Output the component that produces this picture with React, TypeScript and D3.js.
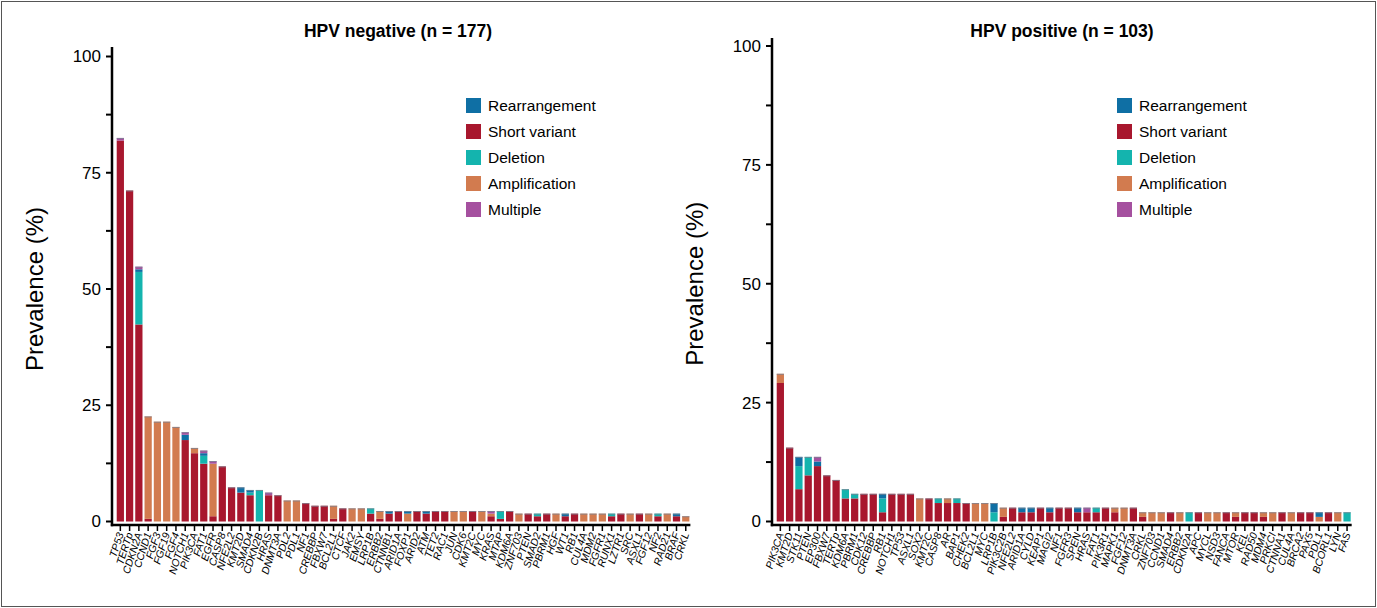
import React from "react";
import * as d3 from "d3";

const seriesKeys = ["short", "deletion", "amp", "rearr", "multiple"];
const seriesNames = ["Short variant", "Deletion", "Amplification", "Rearrangement", "Multiple"];
const seriesColors = ["#a8172e", "#14b4ae", "#d27b4f", "#0f6fa4", "#a5509f"];
const legendOrder = [3, 0, 1, 2, 4];

const negN = 177;
const negGenes = ["TP53","TERTp","CDKN2A","CCND1","FGF3","FGF19","FGF4","NOTCH1","PIK3CA","FAT1","EGFR","CASP8","NFE2L2","KMT2D","SMAD4","CDKN2B","HRAS","DNMT3A","PDL2","PDL1","NF1","CREBBP","FBXW7","BCL2L1","CTCF","JAK2","EMSY","LRP1B","ERBB2","CTNNB1","ARID1A","FOXP1","ARID2","ATM","TET2","RAC1","JUN","CDK6","KMT2C","MYC","KRAS","MTAP","KDM6A","ZNF703","PTEN","SMAD2","PBRM1","HGF","WT1","RB1","CUL4A","MDM2","FGFR1","RUNX1","LZTR1","SRC","ASXL1","FGF12","NF2","RAD21","BRAF","CRKL"];
const negShort = [145,126,75,1,0,0,0,31,26,22,2,21,13,11,10,0,10,10,0,0,7,6,6,1,5,0,0,3,1,3,4,0,4,3,4,4,0,0,4,0,2,1,4,0,3,2,3,0,2,3,0,0,0,2,3,0,3,0,2,0,2,0];
const negDeletion = [0,0,20,0,0,0,0,0,0,3,0,0,0,0,1,12,0,0,0,0,0,0,0,0,0,0,0,2,0,0,0,0,0,0,0,0,0,0,0,0,0,3,0,0,0,1,0,0,0,0,0,0,0,1,0,0,0,0,1,0,0,0];
const negAmp = [0,0,0,39,38,38,36,0,2,0,20,0,0,0,0,0,0,0,8,8,0,0,0,5,0,5,5,0,3,0,0,3,0,0,0,0,4,4,0,4,1,0,0,3,0,0,0,3,0,0,3,3,3,0,0,3,0,3,0,3,0,2];
const negRearr = [0,0,1,0,0,0,0,2,0,1,0,0,0,2,1,0,0,0,0,0,0,0,0,0,0,0,0,0,0,1,0,1,0,1,0,0,0,0,0,0,0,0,0,0,0,0,0,0,1,0,0,0,0,0,0,0,0,0,0,0,1,0];
const negMultiple = [1,0,1,0,0,0,0,1,0,1,1,0,0,0,0,0,1,0,0,0,0,0,0,0,0,0,0,0,0,0,0,0,0,0,0,0,0,0,0,0,1,0,0,0,0,0,0,0,0,0,0,0,0,0,0,0,0,0,0,0,0,0];

const posN = 103;
const posGenes = ["PIK3CA","KMT2D","STK11","PTEN","EP300","FBXW7","TERTp","KDM6A","PBRM1","CDK12","CREBBP","RB1","NOTCH1","TP53","ASXL1","SOX2","KMT2C","CASP8","AR","BAP1","CHEK2","BCL2L1","MYC","LRP1B","PIK3C2B","NFE2L2","ARID1A","CYLD","KEAP1","MAGI2","NF1","FGFR3","SPEN","HRAS","FAT1","PIK3R1","MAPK1","FGF12","DNMT3A","CRKL","ZNF703","CCND1","SMAD4","ERBB2","CDKN2A","APC","MYCL","NSD3","FANCA","MTOR","KEL","RAD50","MDM4","PRKCI","CTNNA1","CUL4A","BRCA2","PAX5","PDL1","BCORL1","LYN","FAS"];
const posShort = [30,16,7,10,12,10,9,5,5,6,6,2,6,6,6,0,5,4,4,4,4,0,0,0,1,3,2,2,3,2,3,3,2,2,2,3,2,0,3,1,0,0,2,0,0,2,0,0,2,1,2,2,1,0,2,0,2,2,0,2,0,0];
const posDeletion = [0,0,5,4,0,0,0,2,1,0,0,3,0,0,0,0,0,1,0,1,0,0,0,2,0,0,0,0,0,0,0,0,0,0,1,0,0,0,0,0,0,0,0,0,2,0,0,0,0,0,0,0,0,0,0,0,0,0,0,0,0,2];
const posAmp = [2,0,0,0,0,0,0,0,0,0,0,0,0,0,0,5,0,0,1,0,0,4,4,0,2,0,0,0,0,0,0,0,0,0,0,0,1,3,0,1,2,2,0,2,0,0,2,2,0,1,0,0,1,2,0,2,0,0,1,0,2,0];
const posRearr = [0,0,2,0,1,0,0,0,0,0,0,1,0,0,0,0,0,0,0,0,0,0,0,2,0,0,1,1,0,1,0,0,1,0,0,0,0,0,0,0,0,0,0,0,0,0,0,0,0,0,0,0,0,0,0,0,0,0,1,0,0,0];
const posMultiple = [
  0,0,0,0,1,0,0,0,0,0,
  0,0,0,0,0,0,0,0,0,0,
  0,0,0,0,0,0,0,0,0,0,
  0,0,0,1,0,0,0,0,0,0,
  0,0,0,0,0,0,0,0,0,0,
  0,0,0,0,0,0,0,0,0,0,
  0,0
];

const yTicks = [0, 12.5, 25, 37.5, 50, 62.5, 75, 87.5, 100];
const yLabelTicks = [0, 25, 50, 75, 100];

const FONT = "'Liberation Sans', Arial, Helvetica, sans-serif";

type PanelProps = {
  title: string;
  genes: string[];
  series: number[][];
  n: number;
  axisX: number;
  xRange: [number, number];
  yRange: [number, number];
  titleX: number;
  legendX: number;
  yLabelX: number;
  axisTop: number;
};

function Panel(p: PanelProps) {
  const x = d3.scaleBand<string>().domain(p.genes).range(p.xRange).paddingInner(0.22).paddingOuter(0.11);
  const y = d3.scaleLinear().domain([0, 100]).range(p.yRange);
  const rows = p.genes.map((g, i) => {
    const r: any = { gene: g };
    seriesKeys.forEach((k, s) => (r[k] = (p.series[s][i] / p.n) * 100));
    return r;
  });
  const stacked = d3.stack<any>().keys(seriesKeys)(rows);
  const axisY = 525;
  const lastRight = (x(p.genes[p.genes.length - 1]) as number) + x.bandwidth() + 1;
  const yMid = (y(0) + y(100)) / 2;
  return (
    <g>
      <text x={p.titleX} y={37} textAnchor="middle" fontFamily={FONT} fontWeight="bold" fontSize={17.5}>{p.title}</text>
      <text transform={`translate(${p.yLabelX},${yMid}) rotate(-90)`} textAnchor="middle" fontFamily={FONT} fontSize={24}>Prevalence (%)</text>
      {stacked.map((layer, s) => (
        <g key={seriesKeys[s]} fill={seriesColors[s]}>
          {layer.map((d, i) => {
            const h = y(d[0]) - y(d[1]);
            if (h <= 0) return null;
            return <rect key={i} x={x(p.genes[i])} y={y(d[1])} width={x.bandwidth()} height={h} />;
          })}
        </g>
      ))}
      {rows.map((r, i) => {
        const total = seriesKeys.reduce((a, k) => a + r[k], 0);
        return <line key={i} x1={x(r.gene)} x2={(x(r.gene) as number) + x.bandwidth()} y1={y(total) + 0.5} y2={y(total) + 0.5} stroke="#7d8494" strokeWidth={1} opacity={0.8} />;
      })}
      <line x1={p.axisX} x2={p.axisX} y1={p.axisTop} y2={axisY + 1.2} stroke="#000" strokeWidth={2.5} />
      <line x1={p.axisX - 1.2} x2={lastRight} y1={axisY} y2={axisY} stroke="#000" strokeWidth={2.5} />
      {yTicks.map((t) => (
        <line key={t} x1={p.axisX - 6} x2={p.axisX} y1={y(t)} y2={y(t)} stroke="#000" strokeWidth={2} />
      ))}
      {yLabelTicks.map((t) => (
        <text key={t} x={p.axisX - 11} y={y(t)} dy="0.35em" textAnchor="end" fontFamily={FONT} fontSize={17}>{t}</text>
      ))}
      {p.genes.map((g) => {
        const cx = (x(g) as number) + x.bandwidth() / 2;
        return (
          <g key={g}>
            <line x1={cx} x2={cx} y1={axisY} y2={axisY + 6} stroke="#000" strokeWidth={1.5} />
            <text transform={`translate(${cx + 3.5},${axisY + 9}) rotate(-72)`} textAnchor="end" fontFamily={FONT} fontStyle="italic" fontSize={10.5}>{g}</text>
          </g>
        );
      })}
      {legendOrder.map((s, i) => (
        <g key={s} transform={`translate(${p.legendX},${98 + i * 26})`}>
          <rect x={0} y={0} width={15} height={15} fill={seriesColors[s]} />
          <text x={22} y={7.5} dy="0.35em" fontFamily={FONT} fontSize={15.5}>{seriesNames[s]}</text>
        </g>
      ))}
    </g>
  );
}

export default function App() {
  return (
    <svg width={1377} height={608} style={{ position: "absolute", left: 0, top: 0, background: "#fff" }}>
      <rect x={0} y={0} width={1377} height={608} fill="#fff" />
      <rect x={1.5} y={1.5} width={1374} height={605} fill="none" stroke="#555" strokeWidth={1} />
      <Panel
        title="HPV negative (n = 177)"
        genes={negGenes}
        series={[negShort, negDeletion, negAmp, negRearr, negMultiple]}
        n={negN}
        axisX={112}
        xRange={[115.7, 690.4]}
        yRange={[521.5, 56.5]}
        titleX={398}
        legendX={466}
        yLabelX={43}
        axisTop={47}
      />
      <Panel
        title="HPV positive (n = 103)"
        genes={posGenes}
        series={[posShort, posDeletion, posAmp, posRearr, posMultiple]}
        n={posN}
        axisX={772}
        xRange={[775.7, 1351.7]}
        yRange={[521.5, 46]}
        titleX={1062}
        legendX={1117}
        yLabelX={703}
        axisTop={38}
      />
    </svg>
  );
}
